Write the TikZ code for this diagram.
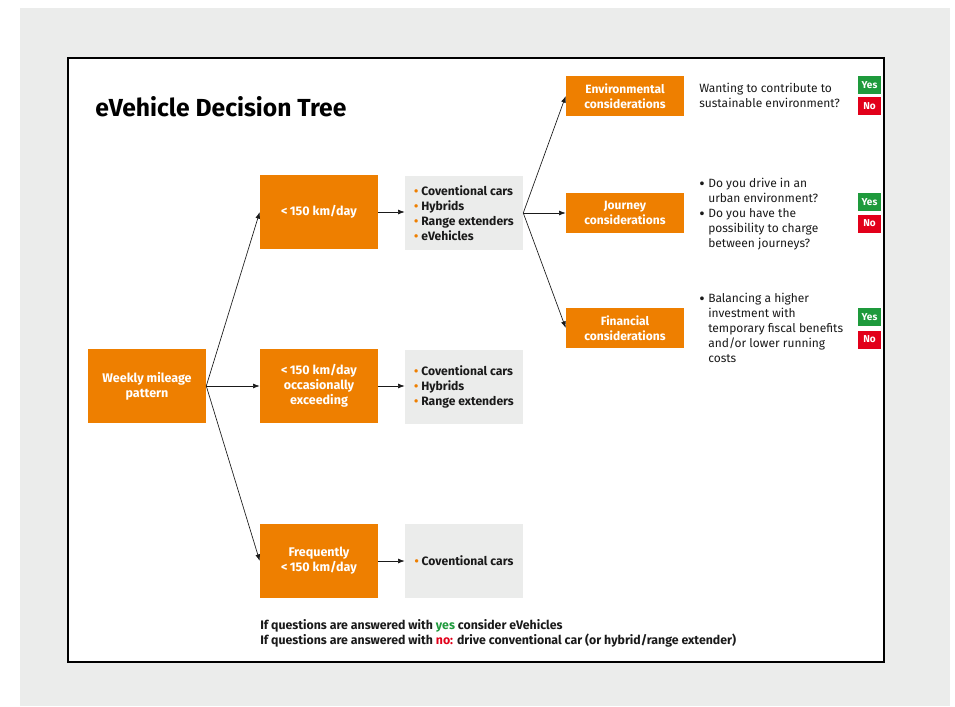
\documentclass[tikz,border=0pt]{standalone}
\usepackage{fontspec}
\setmainfont{Fira Sans}
\usetikzlibrary{arrows.meta}
\definecolor{org}{HTML}{EE7F00}
\definecolor{bg}{HTML}{EBECEB}
\definecolor{ygreen}{HTML}{1E9A3C}
\definecolor{nred}{HTML}{E2001A}
\definecolor{txt}{HTML}{1A1A1A}
\begin{document}
\begin{tikzpicture}[x=0.75pt,y=-0.75pt,
  obox/.style={fill=org, text=white, font=\bfseries\fontsize{9.4}{11.25}\selectfont, align=center, minimum width=88.5pt, minimum height=55.5pt, inner sep=0pt},
  cbox/.style={fill=org, text=white, font=\bfseries\fontsize{9}{11.25}\selectfont, align=center, minimum width=88.5pt, minimum height=30pt, inner sep=0pt},
  gbox/.style={fill=bg, text=txt, font=\bfseries\fontsize{9.1}{11.25}\selectfont, align=left, minimum width=88.5pt, minimum height=55.5pt, inner sep=0pt},
  qtext/.style={text=txt, font=\fontsize{9}{11.25}\selectfont, align=left, inner sep=0pt, anchor=north west},
  yesbox/.style={fill=ygreen, text=white, font=\bfseries\fontsize{7.5}{9}\selectfont, minimum width=17.25pt, minimum height=13.5pt, inner sep=0pt},
  nobox/.style={fill=nred, text=white, font=\bfseries\fontsize{7.5}{9}\selectfont, minimum width=17.25pt, minimum height=13.5pt, inner sep=0pt},
  arr/.style={-{Latex[length=5pt,width=3.6pt]}, line width=0.5pt, draw=txt}
]
\newcommand{\ob}{{\color{org}\textbullet}\ }
\newcommand{\qb}{\makebox[6.75pt][l]{\raisebox{-1.1pt}{\fontsize{12.5}{0}\selectfont\textbullet}}}
\newcommand{\qi}{\hspace*{6.75pt}}
\useasboundingbox (0,0) rectangle (955,706);
\fill[white] (0,0) rectangle (955,706);
\fill[bg] (20,8) rectangle (950,706);
\draw[fill=white, line width=1pt] (68,58) rectangle (884,662);

\node[anchor=west, text=black, font=\bfseries\fontsize{18.5}{22}\selectfont, inner sep=0pt] (title) at (95,107) {eVehicle Decision Tree};

\node[obox] (w) at (147,386) {Weekly mileage\\pattern};
\node[obox] (a) at (319,212) {<\,150 km/day};
\node[obox] (b) at (319,386) {<\,150 km/day\\occasionally\\exceeding};
\node[obox] (c) at (319,561) {Frequently\\<\,150 km/day};

\node[gbox] (ga) at (464,213) {\ob Coventional cars\\\ob Hybrids\\\ob Range extenders\\\ob eVehicles};
\node[gbox] (gb) at (464,387) {\ob Coventional cars\\\ob Hybrids\\\ob Range extenders};
\node[gbox] (gc) at (464,561) {\ob Coventional cars};

\node[cbox] (env) at (625,96) {Environmental\\considerations};
\node[cbox] (jou) at (625,213) {Journey\\considerations};
\node[cbox] (fin) at (625,328) {Financial\\considerations};

\node[qtext] (qe) at (699,83) {Wanting to contribute to\\sustainable environment?};
\node[qtext] (qj) at (699,178) {\qb Do you drive in an\\\qi urban environment?\\\qb Do you have the\\\qi possibility to charge\\\qi between journeys?};
\node[qtext] (qf) at (699,293) {\qb Balancing a higher\\\qi investment with\\\qi temporary fiscal benefits\\\qi and/or lower running\\\qi costs};

\node[yesbox] (y1) at (869.5,85) {Yes};
\node[nobox] (n1) at (869.5,106.5) {No};
\node[yesbox] (y2) at (869.5,202) {Yes};
\node[nobox] (n2) at (869.5,223.5) {No};
\node[yesbox] (y3) at (869.5,317) {Yes};
\node[nobox] (n3) at (869.5,339.5) {No};

\draw[arr] (w.east) -- (a.west);
\draw[arr] (w.east) -- (b.west);
\draw[arr] (w.east) -- (c.west);
\draw[arr] (a.east) -- (a.east -| ga.west);
\draw[arr] (b.east) -- (b.east -| gb.west);
\draw[arr] (c.east) -- (gc.west);
\draw[arr] (ga.east) -- (env.west);
\draw[arr] (ga.east) -- (jou.west);
\draw[arr] (ga.east) -- (fin.west);

\node[anchor=north west, text=txt, font=\bfseries\fontsize{9.25}{11.25}\selectfont, align=left, inner sep=0pt] (foot) at (260,619) {If questions are answered with {\color{ygreen}yes} consider eVehicles\\If questions are answered with {\color{nred}no:} drive conventional car (or hybrid/range extender)};
\end{tikzpicture}
\end{document}
